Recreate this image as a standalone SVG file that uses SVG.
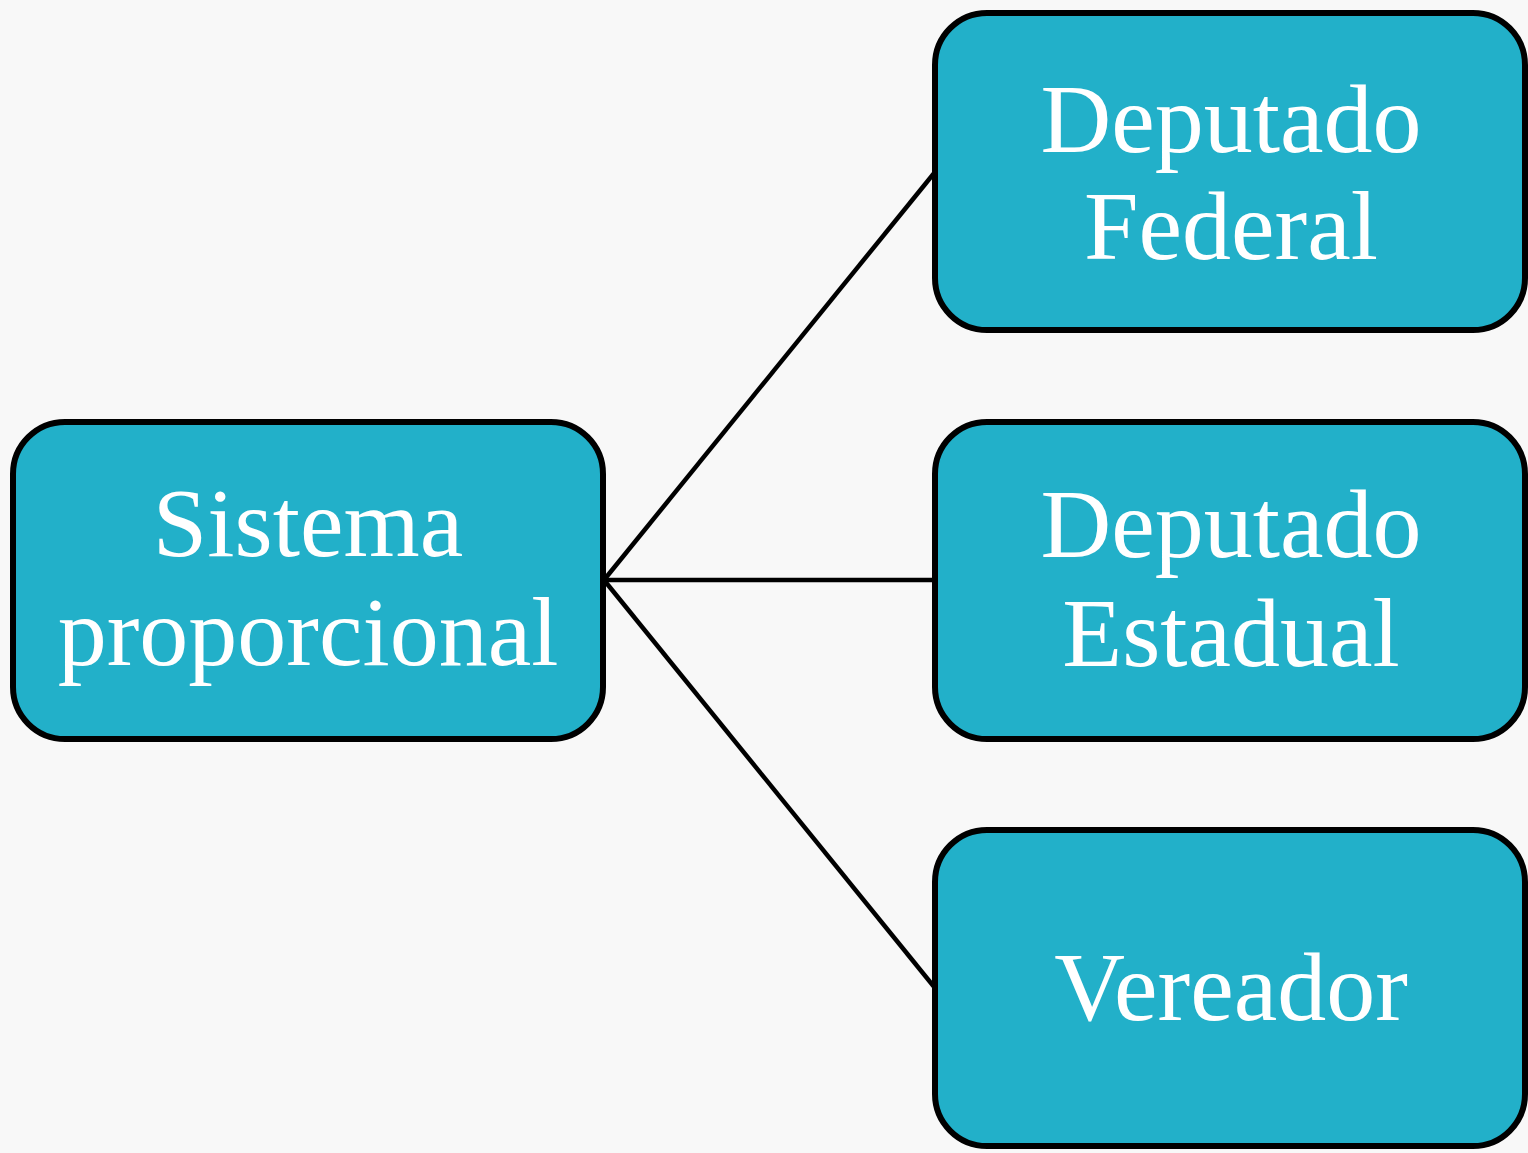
<svg xmlns="http://www.w3.org/2000/svg" width="1528" height="1153" viewBox="0 0 1528 1153">
<style>
.box{fill:#22b0c9;stroke:#000;stroke-width:6}
.lbl{fill:#fff;font-family:"Liberation Serif","DejaVu Serif",serif;font-size:98px;text-anchor:middle}
.conn{stroke:#000;stroke-width:4.5;fill:none}
</style>
<rect width="1528" height="1153" fill="#f8f8f8"/>
<g id="connectors">
<line class="conn" x1="604" y1="580" x2="935" y2="172"/>
<line class="conn" x1="604" y1="580" x2="935" y2="580"/>
<line class="conn" x1="604" y1="580" x2="935" y2="988"/>
</g>
<g id="sistema">
<rect class="box" x="13" y="422" width="590" height="317" rx="52"/>
<text class="lbl" x="308" y="556">Sistema</text>
<text class="lbl" x="308" y="665">proporcional</text>
</g>
<g id="federal">
<rect class="box" x="935" y="13" width="590" height="317" rx="52"/>
<text class="lbl" x="1231" y="152">Deputado</text>
<text class="lbl" x="1231" y="259">Federal</text>
</g>
<g id="estadual">
<rect class="box" x="935" y="422" width="590" height="317" rx="52"/>
<text class="lbl" x="1231" y="557">Deputado</text>
<text class="lbl" x="1231" y="666">Estadual</text>
</g>
<g id="vereador">
<rect class="box" x="935" y="830" width="590" height="316" rx="52"/>
<text class="lbl" x="1231" y="1020">Vereador</text>
</g>
</svg>
